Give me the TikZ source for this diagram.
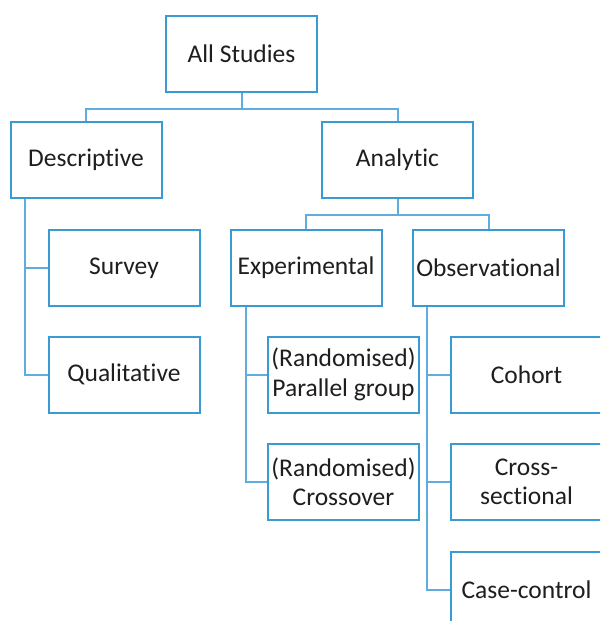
\documentclass[tikz,border=0pt]{standalone}
\usepackage{fontspec}
\setmainfont{Carlito}[Ligatures={NoCommon}]
\definecolor{boxblue}{RGB}{58,155,212}
\definecolor{linkblue}{RGB}{95,172,222}
\definecolor{txt}{RGB}{30,30,30}
\begin{document}
\begin{tikzpicture}[x=1pt,y=-1pt,
  box/.style={draw=boxblue,line width=2pt,fill=white,rectangle,minimum width=151pt,minimum height=76pt,
    inner sep=0pt,align=center,text=txt,font=\fontsize{25.5}{29.5}\selectfont},
  link/.style={draw=linkblue,line width=2pt}]
\useasboundingbox (0,0) rectangle (600,621);
\clip (0,0) rectangle (600,621);
\node[box] (all) at (241.5,53.5) {All Studies};
\node[box] (desc) at (86,160) {Descriptive};
\node[box] (ana) at (397.5,160) {Analytic};
\node[box] (surv) at (124,268) {Survey};
\node[box] (qual) at (124,374.5) {Qualitative};
\node[box] (exp) at (306,268) {Experimental};
\node[box] (obs) at (488.5,268) {Observational};
\node[box] (par) at (343.5,374.5) {(Randomised)\\Parallel group};
\node[box] (cross) at (343.5,482) {(Randomised)\\Crossover};
\node[box] (coh) at (526.5,374.5) {Cohort};
\node[box] (csec) at (526.5,482) {Cross-\\sectional};
\node[box] (cc) at (526.5,590) {Case-control};
\draw[link] (all.south) -- ++(0,16) -| (desc.north);
\draw[link] (all.south) -- ++(0,16) -| (ana.north);
\draw[link] ([xshift=15pt]desc.south west) |- (surv.west);
\draw[link] ([xshift=15pt]desc.south west) |- (qual.west);
\draw[link] (ana.south) -- ++(0,16) -| (exp.north);
\draw[link] (ana.south) -- ++(0,16) -| (obs.north);
\draw[link] ([xshift=16pt]exp.south west) |- (par.west);
\draw[link] ([xshift=16pt]exp.south west) |- (cross.west);
\draw[link] ([xshift=15pt]obs.south west) |- (coh.west);
\draw[link] ([xshift=15pt]obs.south west) |- (csec.west);
\draw[link] ([xshift=15pt]obs.south west) |- (cc.west);
\end{tikzpicture}
\end{document}
